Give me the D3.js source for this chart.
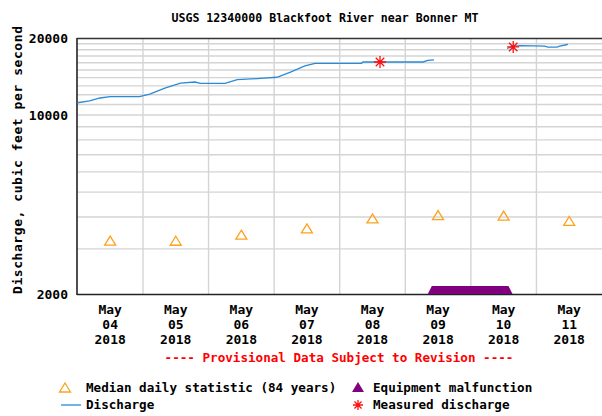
<!DOCTYPE html>
<html>
<head>
<meta charset="utf-8">
<script src="https://cdn.jsdelivr.net/npm/d3@7"></script>
<style>
  body { margin: 0; background: #fff; }
  svg text { font-family: "DejaVu Sans Mono", "Liberation Mono", monospace; font-weight: bold; }
</style>
</head>
<body>
<div id="container"></div>
<script>
// discharge (cfs), gap on May 9-10 during equipment malfunction
const dischargeTimes = [
  "2018-05-04 00:00", "2018-05-04 04:30", "2018-05-04 08:15", "2018-05-04 12:00",
  "2018-05-04 22:45", "2018-05-05 02:30", "2018-05-05 08:00", "2018-05-05 13:45",
  "2018-05-05 19:00", "2018-05-05 21:00", "2018-05-06 06:00", "2018-05-06 10:30",
  "2018-05-06 19:00", "2018-05-07 01:00", "2018-05-07 06:00", "2018-05-07 11:15",
  "2018-05-07 15:00", "2018-05-08 08:00", "2018-05-08 08:30", "2018-05-09 06:30",
  "2018-05-09 08:15", "2018-05-09 10:30", "2018-05-10 00:00",
  "2018-05-10 13:15", "2018-05-10 15:30", "2018-05-10 18:00", "2018-05-11 03:00",
  "2018-05-11 04:15", "2018-05-11 07:30", "2018-05-11 08:30", "2018-05-11 10:30",
  "2018-05-11 11:30"
];
const dischargeValues = [
  11170, 11350, 11660, 11800,
  11800, 12080, 12750, 13340,
  13460, 13300, 13300, 13750,
  13900, 14050, 14720, 15550,
  15930, 15930, 16120, 16120,
  16340, 16420, null,
  18230, 18530, 18660, 18600,
  18440, 18440, 18600, 18780,
  18900
];

const medianTimes = [
  "2018-05-04 12:00", "2018-05-05 12:00", "2018-05-06 12:00", "2018-05-07 12:00",
  "2018-05-08 12:00", "2018-05-09 12:00", "2018-05-10 12:00", "2018-05-11 12:00"
];
const medianValues = [3220, 3215, 3395, 3590, 3930, 4050, 4030, 3840];

const measuredTimes = ["2018-05-08 14:45", "2018-05-10 15:30"];
const measuredValues = [16120, 18450];

const malfunctionStart = "2018-05-09 08:15";
const malfunctionEnd = "2018-05-10 15:15";

const yTicks = [2000, 10000, 20000];
const yGrid = [3000, 4000, 5000, 6000, 7000, 8000, 9000, 10000,
  11000, 12000, 13000, 14000, 15000, 16000, 17000, 18000, 19000];
const dayLabels = ["04", "05", "06", "07", "08", "09", "10", "11"];

const parse = d3.timeParse("%Y-%m-%d %H:%M");

const width = 602, height = 416;
const svg = d3.select('#container').append('svg')
  .attr('width', width)
  .attr('height', height);

const x = d3.scaleTime()
  .domain([parse("2018-05-04 00:00"), parse("2018-05-12 00:00")])
  .range([77.4, 602]);
const y = d3.scaleLog()
  .domain([2000, 20000])
  .range([294, 38]);

// grid
const midnights = d3.timeDay.range(parse("2018-05-05 00:00"), parse("2018-05-12 00:00"));
svg.append('g')
  .selectAll('line')
  .data(midnights)
  .join('line')
  .attr('x1', d => x(d)).attr('x2', d => x(d))
  .attr('y1', 38).attr('y2', 294)
  .attr('stroke', '#d4d4d4')
  .attr('stroke-width', 1.4);

svg.append('g')
  .selectAll('line')
  .data(yGrid)
  .join('line')
  .attr('x1', 77).attr('x2', 602)
  .attr('y1', d => y(d)).attr('y2', d => y(d))
  .attr('stroke', '#d4d4d4')
  .attr('stroke-width', 1.4);

// frame
svg.append('line').attr('x1', 77).attr('x2', 602).attr('y1', 38.5).attr('y2', 38.5)
  .attr('stroke', '#333').attr('stroke-width', 1.6);
svg.append('line').attr('x1', 77).attr('x2', 602).attr('y1', 294.5).attr('y2', 294.5)
  .attr('stroke', '#222').attr('stroke-width', 1.6);
svg.append('line').attr('x1', 77).attr('x2', 77).attr('y1', 38).attr('y2', 295)
  .attr('stroke', '#222').attr('stroke-width', 1.6);

// title
svg.append('text')
  .attr('x', 325).attr('y', 22)
  .attr('text-anchor', 'middle')
  .attr('font-size', 11.6)
  .text('USGS 12340000 Blackfoot River near Bonner MT');

// y axis labels
svg.append('g')
  .selectAll('text')
  .data(yTicks)
  .join('text')
  .attr('x', 68)
  .attr('y', d => y(d) + 5)
  .attr('text-anchor', 'end')
  .attr('font-size', 13)
  .text(d => d);

svg.append('text')
  .attr('transform', 'translate(22,160) rotate(-90)')
  .attr('text-anchor', 'middle')
  .attr('font-size', 13)
  .attr('textLength', 268)
  .attr('lengthAdjust', 'spacing')
  .text('Discharge, cubic feet per second');

// x axis labels
const noons = medianTimes.map(parse);
const xl = svg.append('g')
  .selectAll('text')
  .data(noons)
  .join('text')
  .attr('text-anchor', 'middle')
  .attr('font-size', 13);
xl.append('tspan').attr('x', d => x(d)).attr('y', 314).text('May');
xl.append('tspan').attr('x', d => x(d)).attr('y', 329).text((d, i) => dayLabels[i]);
xl.append('tspan').attr('x', d => x(d)).attr('y', 344).text('2018');

svg.append('text')
  .attr('x', 339).attr('y', 362)
  .attr('text-anchor', 'middle')
  .attr('font-size', 12.6)
  .attr('fill', '#ff0000')
  .text('---- Provisional Data Subject to Revision ----');

// malfunction bar
const m0 = x(parse(malfunctionStart)), m1 = x(parse(malfunctionEnd));
svg.append('polygon')
  .attr('points', [[m0, 294], [m0 + 4, 286], [m1 - 4, 286], [m1, 294]].join(' '))
  .attr('fill', '#800080');

// discharge line
const dischargeData = dischargeTimes.map((t, i) => ({t: parse(t), v: dischargeValues[i]}));
const line = d3.line()
  .defined(d => d.v !== null)
  .x(d => x(d.t))
  .y(d => y(d.v));
svg.append('path')
  .datum(dischargeData)
  .attr('fill', 'none')
  .attr('stroke', '#2a8ad6')
  .attr('stroke-width', 1.3)
  .attr('d', line);

// median triangles
const tri = (cx, cy) => `M${cx},${cy - 5} L${cx + 5.5},${cy + 4} L${cx - 5.5},${cy + 4} Z`;
svg.append('g')
  .selectAll('path')
  .data(medianValues)
  .join('path')
  .attr('d', (d, i) => tri(x(noons[i]), y(d)))
  .attr('fill', 'none')
  .attr('stroke', '#fca21c')
  .attr('stroke-width', 1.3);

// measured discharge asterisks
const star = (cx, cy, r) => {
  let p = '';
  for (let k = 0; k < 4; k++) {
    const a = k * Math.PI / 4;
    p += `M${cx - r * Math.cos(a)},${cy - r * Math.sin(a)} L${cx + r * Math.cos(a)},${cy + r * Math.sin(a)} `;
  }
  return p;
};
svg.append('g')
  .selectAll('path')
  .data(measuredValues)
  .join('path')
  .attr('d', (d, i) => star(x(parse(measuredTimes[i])), y(d), 6))
  .attr('stroke', '#ff1010')
  .attr('stroke-width', 1.3);

// legend
const lg = svg.append('g').attr('font-size', 12.6);
lg.append('path').attr('d', tri(65, 388)).attr('fill', 'none')
  .attr('stroke', '#fca21c').attr('stroke-width', 1.3);
lg.append('text').attr('x', 86).attr('y', 392).text('Median daily statistic (84 years)');
lg.append('path').attr('d', `M358,382 L364,392 L352,392 Z`).attr('fill', '#800080');
lg.append('text').attr('x', 373).attr('y', 392).text('Equipment malfunction');
lg.append('line').attr('x1', 61).attr('x2', 81).attr('y1', 405).attr('y2', 405)
  .attr('stroke', '#2a8ad6').attr('stroke-width', 1.3);
lg.append('text').attr('x', 86).attr('y', 409).text('Discharge');
lg.append('path').attr('d', star(358, 405, 5)).attr('stroke', '#ff1010').attr('stroke-width', 1.3);
lg.append('text').attr('x', 373).attr('y', 409).text('Measured discharge');
</script>
</body>
</html>
